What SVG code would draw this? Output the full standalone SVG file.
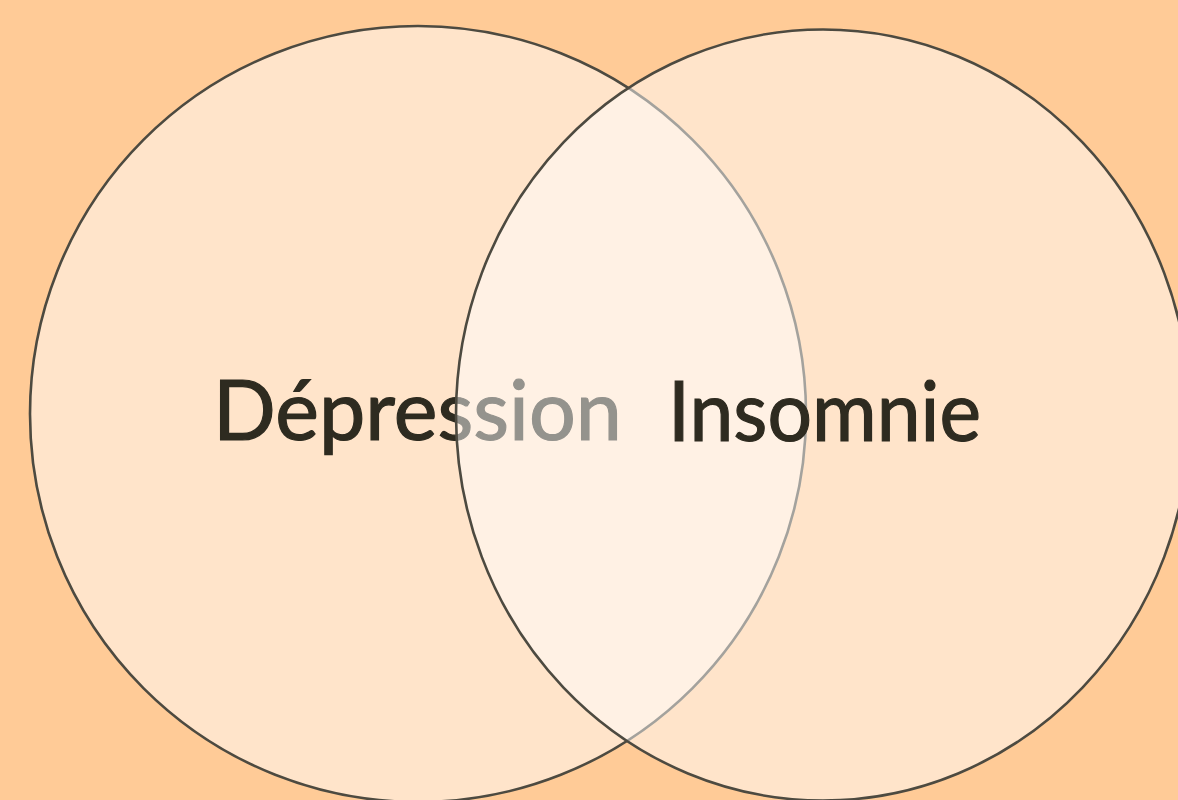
<svg xmlns="http://www.w3.org/2000/svg" width="1178" height="800" viewBox="0 0 1178 800">
  <style>
    .circle { fill: #ffffff; fill-opacity: 0.49; stroke: #4d4a40; stroke-width: 2.6; }
    .label { font-family: Lato, "Noto Sans", "Liberation Sans", sans-serif; font-size: 83px; fill: #2e2b20; stroke: #2e2b20; stroke-width: 1.2; }
  </style>
  <rect x="0" y="0" width="1178" height="800" fill="#ffcb97"/>
  <g id="depression">
    <circle class="circle" cx="418" cy="414" r="388"/>
    <text class="label" x="213" y="440" textLength="409" lengthAdjust="spacingAndGlyphs">Dépression</text>
  </g>
  <g id="insomnie">
    <ellipse class="circle" cx="823" cy="415" rx="367" ry="385.5"/>
    <text class="label" x="668" y="441" textLength="313" lengthAdjust="spacingAndGlyphs">Insomnie</text>
  </g>
  <g id="connectors"></g>
</svg>
